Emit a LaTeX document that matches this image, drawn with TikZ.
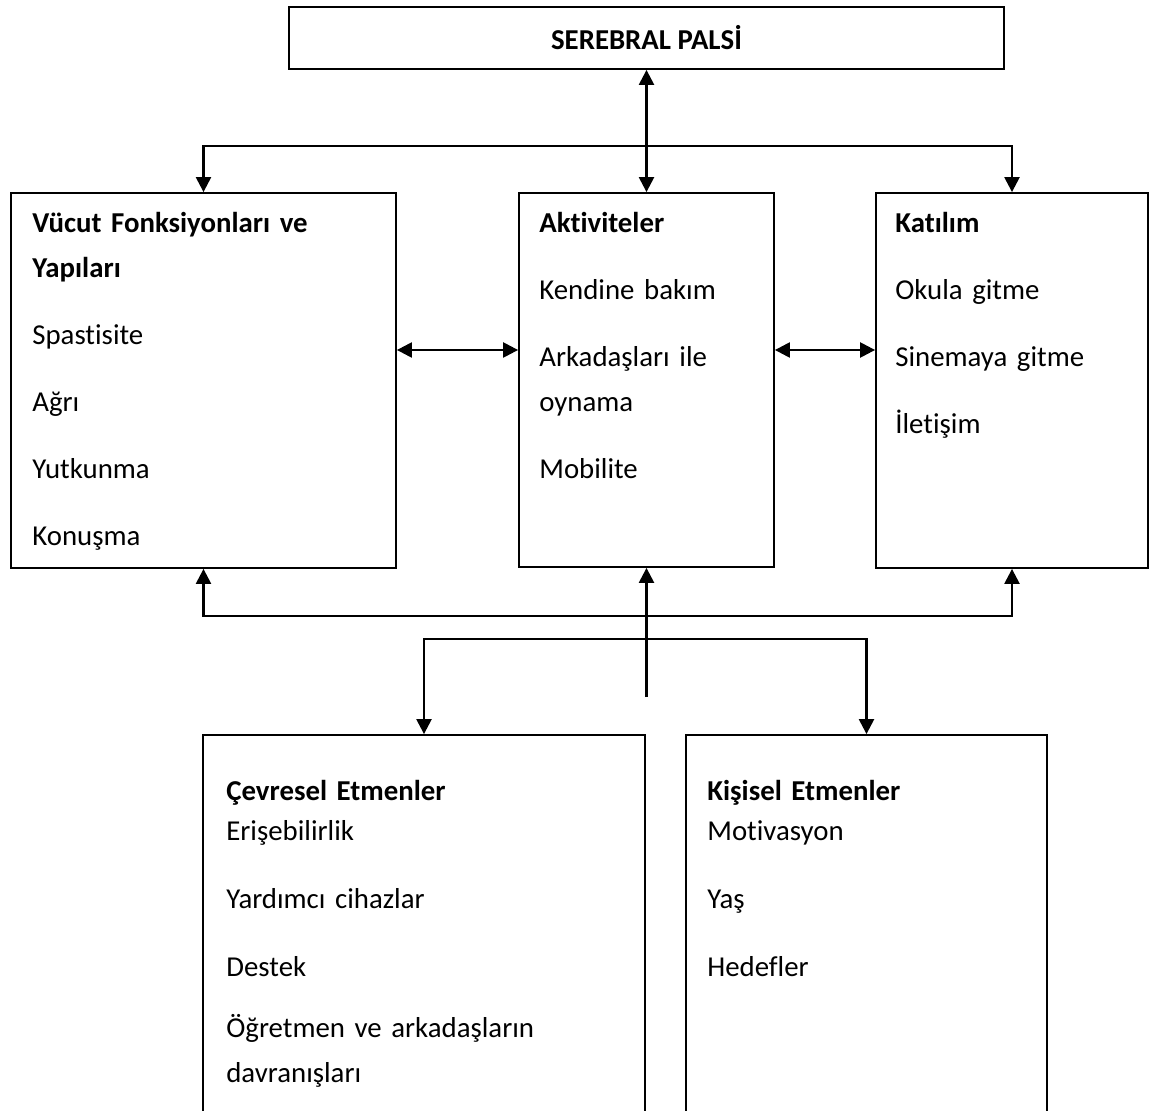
\documentclass[tikz,border=0pt]{standalone}
\usepackage{fontspec}
\setmainfont{Carlito}[Ligatures={NoCommon}]
\usetikzlibrary{arrows.meta}

\begin{document}
\begin{tikzpicture}[x=1cm,y=1cm,
  box/.style={draw, rectangle, line width=1.3pt, inner sep=0pt},
  txt/.style={anchor=base west, align=left, inner sep=0pt, text width=8.6cm,
    font=\fontsize{20.5}{32}\selectfont},
  link/.style={line width=1.7pt, arrows={-Triangle[length=0.375cm, width=0.375cm]}},
  dlink/.style={line width=1.7pt, arrows={Triangle[length=0.375cm, width=0.375cm]-Triangle[length=0.375cm, width=0.375cm]}}]
\clip (0,0) rectangle (28.85,-27.775);
\node[box, minimum width=17.875cm, minimum height=1.55cm, font=\fontsize{20.5}{32}\selectfont\bfseries] (sp) at (16.1625,-0.95) {SEREBRAL PALSİ};
\node[box, minimum width=9.625cm, minimum height=9.375cm] (vf) at (5.0875,-9.5125) {};
\node[box, minimum width=6.375cm, minimum height=9.35cm] (ak) at (16.1625,-9.5) {};
\node[box, minimum width=6.8cm, minimum height=9.375cm] (ka) at (25.3,-9.5125) {};
\node[box, minimum width=11.05cm, minimum height=9.875cm] (ce) at (10.6,-23.3125) {};
\node[box, minimum width=9.025cm, minimum height=9.875cm] (ki) at (21.6625,-23.3125) {};
% box texts
\node[txt] (vftext) at ([shift={(0.55,-1.0)}]vf.north west) {\textbf{Vücut Fonksiyonları ve}\\\textbf{Yapıları}\\[0.55cm]Spastisite\\[0.55cm]Ağrı\\[0.55cm]Yutkunma\\[0.55cm]Konuşma};
\node[txt] (aktext) at ([shift={(0.525,-1.0)}]ak.north west) {\textbf{Aktiviteler}\\[0.55cm]Kendine bakım\\[0.55cm]Arkadaşları ile\\oynama\\[0.55cm]Mobilite};
\node[txt] (katext) at ([shift={(0.5,-1.0)}]ka.north west) {\textbf{Katılım}\\[0.55cm]Okula gitme\\[0.55cm]Sinemaya gitme\\[0.55cm]İletişim};
\node[txt] (cetext) at ([shift={(0.6,-1.65)}]ce.north west) {\textbf{Çevresel Etmenler}\\[-0.125cm]Erişebilirlik\\[0.575cm]Yardımcı cihazlar\\[0.575cm]Destek\\[0.4cm]Öğretmen ve arkadaşların\\davranışları};
\node[txt] (kitext) at ([shift={(0.55,-1.65)}]ki.north west) {\textbf{Kişisel Etmenler}\\[-0.125cm]Motivasyon\\[0.575cm]Yaş\\[0.575cm]Hedefler};
% branch points
\coordinate (tb) at (16.1625,-3.65);
\coordinate (bb) at (16.1625,-15.4);
\coordinate (lb) at (16.1625,-15.975);
\coordinate (ms) at (16.1625,-17.425);
\coordinate (hm) at (0,-8.75);
\draw[dlink] (sp.south) -- (ak.north);
\draw[dlink] (vf.north) |- (tb) -| (ka.north);
\draw[dlink] (vf.east |- hm) -- (ak.west |- hm);
\draw[dlink] (ak.east |- hm) -- (ka.west |- hm);
\draw[dlink] (vf.south) |- (bb) -| (ka.south);
\draw[link] (ms) -- (ak.south);
\draw[dlink] (ce.north) |- (lb) -| (ki.north);
\end{tikzpicture}
\end{document}
